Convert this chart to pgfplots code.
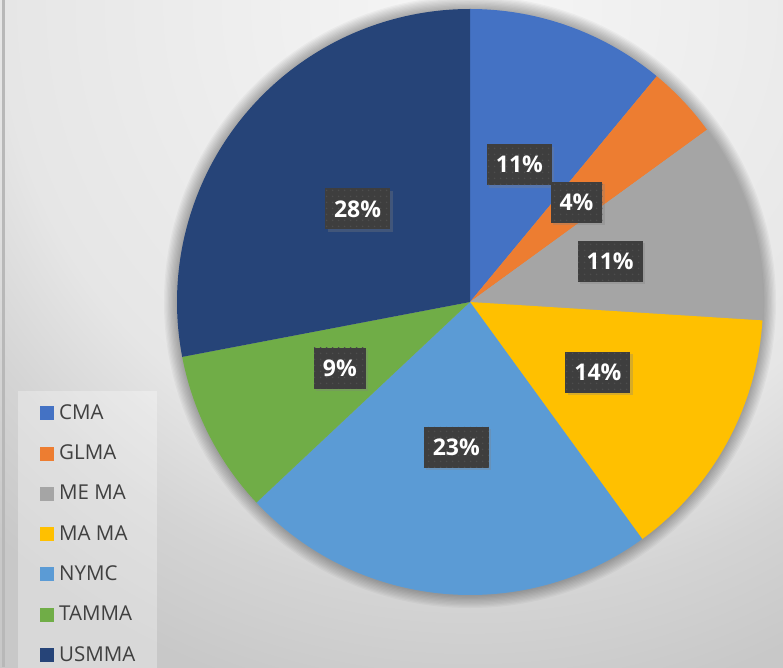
\documentclass[border=0pt]{standalone}
\usepackage{pgfplots}
\pgfplotsset{compat=1.18}
\usepackage{pgfplotstable}
\usepackage{fontspec}
\setmainfont{Open Sans}
\usetikzlibrary{shadows,patterns.meta}

% slice colours (Office palette)
\definecolor{c0}{HTML}{4472C4}
\definecolor{c1}{HTML}{ED7D31}
\definecolor{c2}{HTML}{A5A5A5}
\definecolor{c3}{HTML}{FFC000}
\definecolor{c4}{HTML}{5B9BD5}
\definecolor{c5}{HTML}{70AD47}
\definecolor{c6}{HTML}{264478}
\definecolor{lblbox}{HTML}{3E3E3E}
\definecolor{lbldot}{HTML}{4E4E4E}
\definecolor{legtext}{HTML}{404040}
\definecolor{bg0}{HTML}{F6F6F6}
\definecolor{bg1}{HTML}{E6E6E6}
\definecolor{bg2}{HTML}{D4D4D4}
\definecolor{bg3}{HTML}{C8C8C8}
\definecolor{bgline}{HTML}{B8B8B8}

\pgfdeclareradialshading{bgshade}{\pgfpointorigin}{%
  color(0bp)=(bg0); color(13bp)=(bg1); color(16.4bp)=(bg2);
  color(19.8bp)=(bg3); color(50bp)=(bg3)}

\tikzdeclarepattern{name=lbldots, type=uncolored,
  bounding box={(0pt,0pt) and (6pt,6pt)}, tile size={(6pt,6pt)},
  code={\fill (3pt,3pt) circle[radius=0.9pt];}}

% percentages, clockwise from 12 o'clock
\pgfplotstableread{
pct
11
4
11
14
23
9
28
}\piedata

\begin{document}
\begin{tikzpicture}
\useasboundingbox (0,0) rectangle (783pt,667pt);
\clip (0,0) rectangle (783pt,667pt);
\fill[bg3] (0,0) rectangle (783pt,667pt);
\shade[shading=bgshade] (470pt,660pt) circle[radius=900pt];
\fill[bgline] (2pt,0) rectangle (4.5pt,667pt);
\begin{axis}[
  x=1pt, y=1pt,
  xmin=0, xmax=783, ymin=0, ymax=667,
  hide axis, clip=false,
  legend image code/.code={\fill[#1, draw=none, fill opacity=1] (0pt,-7pt) rectangle (14pt,7pt);},
  legend style={at={(axis cs:18,276)}, anchor=north west,
    draw=none, fill=white, fill opacity=0.3, text opacity=1,
    inner xsep=22pt, inner ysep=12pt,
    row sep=20.3pt, column sep=5pt,
    font=\fontsize{20.5}{25}\selectfont, text=legtext,
    nodes={inner sep=0pt, text height=16pt, text depth=4pt}},
  legend cell align={left},
]
\addlegendimage{fill=c0}\addlegendentry{CMA}
\addlegendimage{fill=c1}\addlegendentry{GLMA}
\addlegendimage{fill=c2}\addlegendentry{ME MA}
\addlegendimage{fill=c3}\addlegendentry{MA MA}
\addlegendimage{fill=c4}\addlegendentry{NYMC}
\addlegendimage{fill=c5}\addlegendentry{TAMMA}
\addlegendimage{fill=c6}\addlegendentry{USMMA}

\pgfplotsextra{
  % soft shadow round the pie
  \foreach \k in {1,...,10}{
    \fill[black, opacity=0.03] (axis cs:470,365) circle[radius={293pt+1.3pt*\k}];
  }
  \pgfplotstablegetrowsof{\piedata}
  \pgfmathtruncatemacro\nrows{\pgfplotsretval-1}
  % slices
  \xdef\cum{0}
  \foreach \i in {0,...,\nrows}{
    \pgfplotstablegetelem{\i}{pct}\of\piedata
    \let\p\pgfplotsretval
    \pgfmathsetmacro\sa{90-3.6*\cum}
    \pgfmathsetmacro\ea{90-3.6*(\cum+\p)}
    \fill[c\i] (axis cs:470,365) -- ++(\sa:293pt)
      arc[start angle=\sa, end angle=\ea, radius=293pt] -- cycle;
    \pgfmathsetmacro\newcum{\cum+\p}
    \xdef\cum{\newcum}
  }
  % data labels
  \xdef\cum{0}
  \foreach \i in {0,...,\nrows}{
    \pgfplotstablegetelem{\i}{pct}\of\piedata
    \let\p\pgfplotsretval
    \pgfmathsetmacro\ma{90-3.6*(\cum+\p/2)}
    \pgfmathsetmacro\lx{470+146*cos(\ma)}
    \pgfmathsetmacro\ly{365+146*sin(\ma)}
    \node[fill=lblbox, text=white, font=\fontsize{23}{26}\selectfont\bfseries,
      inner xsep=9pt, minimum height=41pt,
      postaction={pattern=lbldots, pattern color=lbldot},
      drop shadow={shadow xshift=2.5pt, shadow yshift=-2.5pt, opacity=0.3}]
      at (axis cs:\lx,\ly) {\p\%};
    \pgfmathsetmacro\newcum{\cum+\p}
    \xdef\cum{\newcum}
  }
}
\end{axis}
\end{tikzpicture}
\end{document}
